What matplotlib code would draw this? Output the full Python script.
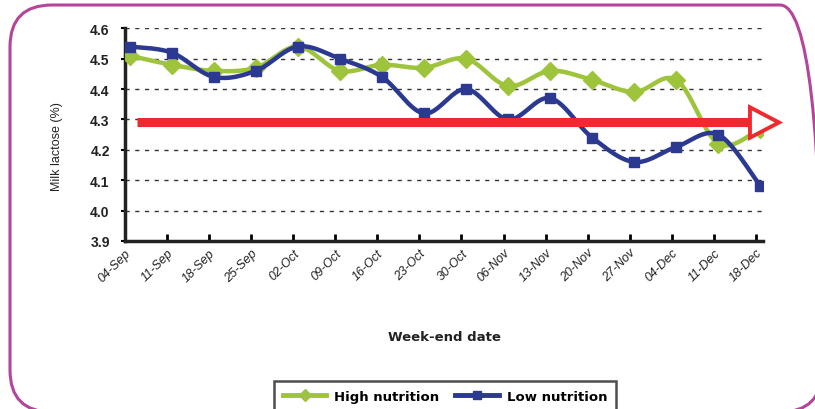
import numpy as np
import matplotlib.pyplot as plt
from matplotlib.patches import FancyBboxPatch, Polygon
from matplotlib.lines import Line2D
from matplotlib.transforms import IdentityTransform

# week-end dates and milk lactose (%)
weeks = ['04-Sep', '11-Sep', '18-Sep', '25-Sep', '02-Oct', '09-Oct', '16-Oct', '23-Oct',
         '30-Oct', '06-Nov', '13-Nov', '20-Nov', '27-Nov', '04-Dec', '11-Dec', '18-Dec']
high_nutrition = [4.51, 4.48, 4.46, 4.47, 4.54, 4.46, 4.48, 4.47,
                  4.50, 4.41, 4.46, 4.43, 4.39, 4.43, 4.22, 4.27]
low_nutrition = [4.54, 4.52, 4.44, 4.46, 4.54, 4.50, 4.44, 4.32,
                 4.40, 4.30, 4.37, 4.24, 4.16, 4.21, 4.25, 4.08]
threshold = 4.29

GREEN = '#9dc43a'
BLUE = '#2b3990'
RED = '#ee2a2f'


def smooth(x, y, n=24):
    # catmull-rom curve through the points (like excel "smoothed line")
    x = np.asarray(x, float)
    y = np.asarray(y, float)
    px = np.r_[x[0], x, x[-1]]
    py = np.r_[y[0], y, y[-1]]
    t = np.linspace(0, 1, n, endpoint=False)
    xs, ys = [], []
    for i in range(1, len(px) - 2):
        for p, out in ((px, xs), (py, ys)):
            p0, p1, p2, p3 = p[i - 1], p[i], p[i + 1], p[i + 2]
            out.extend(0.5 * (2 * p1 + (-p0 + p2) * t + (2 * p0 - 5 * p1 + 4 * p2 - p3) * t ** 2
                              + (-p0 + 3 * p1 - 3 * p2 + p3) * t ** 3))
    xs.append(x[-1])
    ys.append(y[-1])
    return np.array(xs), np.array(ys)


fig = plt.figure(figsize=(8.15, 4.10), dpi=100)
ax = fig.add_axes([125 / 815, 168 / 410, 638 / 815, 212.7 / 410])

x = np.arange(len(weeks)) + 0.11

# rounded magenta frame (right edge runs off the picture)
frame = FancyBboxPatch((10, -3), 812, 407, boxstyle='round,pad=0,rounding_size=42',
                       fill=False, edgecolor='#b5449b', linewidth=2.2)
fig.add_artist(frame)
frame.set_transform(IdentityTransform())

sx, sy = smooth(x, high_nutrition)
ax.plot(sx, sy, color=GREEN, lw=3.2, zorder=3)
ax.plot(x, high_nutrition, ls='none', marker='D', ms=9.5, color=GREEN, zorder=3)
sx, sy = smooth(x, low_nutrition)
ax.plot(sx, sy, color=BLUE, lw=3.2, zorder=4)
ax.plot(x, low_nutrition, ls='none', marker='s', ms=7, color=BLUE, zorder=4)

# red threshold arrow
ax.plot([0.28, 14.9], [threshold, threshold], color=RED, lw=6.5, solid_capstyle='butt',
        zorder=5, clip_on=False)
ax.add_patch(Polygon([[14.86, threshold + 0.05], [15.55, threshold], [14.86, threshold - 0.05]],
                     closed=True, facecolor='white', edgecolor=RED, lw=2.8, zorder=6, clip_on=False))

ax.set_xlim(0, 15.17)
ax.set_ylim(3.9, 4.6)
ax.set_yticks(np.arange(3.9, 4.61, 0.1))
ax.set_yticklabels(['%.1f' % v for v in np.arange(3.9, 4.61, 0.1)],
                   fontsize=10, fontweight='bold', family='Liberation Sans', color='#222222')
ax.set_xticks(np.arange(len(weeks)))
ax.set_xticklabels(weeks, rotation=45, ha='right', va='top', rotation_mode='anchor',
                   fontsize=9, style='italic', family='Liberation Sans', color='#222222')
ax.tick_params(axis='y', direction='out', length=3, width=1.5, pad=8)
ax.tick_params(axis='x', direction='in', length=5, width=2, pad=4)

for v in np.arange(4.0, 4.61, 0.1):
    ax.axhline(v, color='#333333', lw=1, ls=(0, (3, 4)), zorder=1)

for s in ('top', 'right'):
    ax.spines[s].set_visible(False)
for s in ('left', 'bottom'):
    ax.spines[s].set_linewidth(2.5)
    ax.spines[s].set_color('#222222')

fig.text(57 / 815, 1 - 147 / 410, 'Milk lactose (%)', rotation=90, ha='center', va='center',
         fontsize=9, family='Liberation Sans', color='#222222')
fig.text(444 / 815, 1 - 338 / 410, 'Week-end date', ha='center', va='center',
         fontsize=9.5, fontweight='bold', family='DejaVu Sans', color='#222222')

handles = [Line2D([], [], color=GREEN, lw=3.5, marker='D', ms=6),
           Line2D([], [], color=BLUE, lw=3.5, marker='s', ms=6)]
leg = fig.legend(handles, ['High nutrition', 'Low nutrition'], loc='upper left',
                 bbox_to_anchor=(267 / 815, 1 - 375 / 410), ncol=2, frameon=True, fancybox=False,
                 handlelength=3.3, handletextpad=0.6, columnspacing=1.2, borderpad=0.7,
                 prop={'family': 'DejaVu Sans', 'weight': 'bold', 'size': 9.5})
leg.get_frame().set_edgecolor('#222222')
leg.get_frame().set_linewidth(1.8)

fig.savefig('out.png', dpi=100)
